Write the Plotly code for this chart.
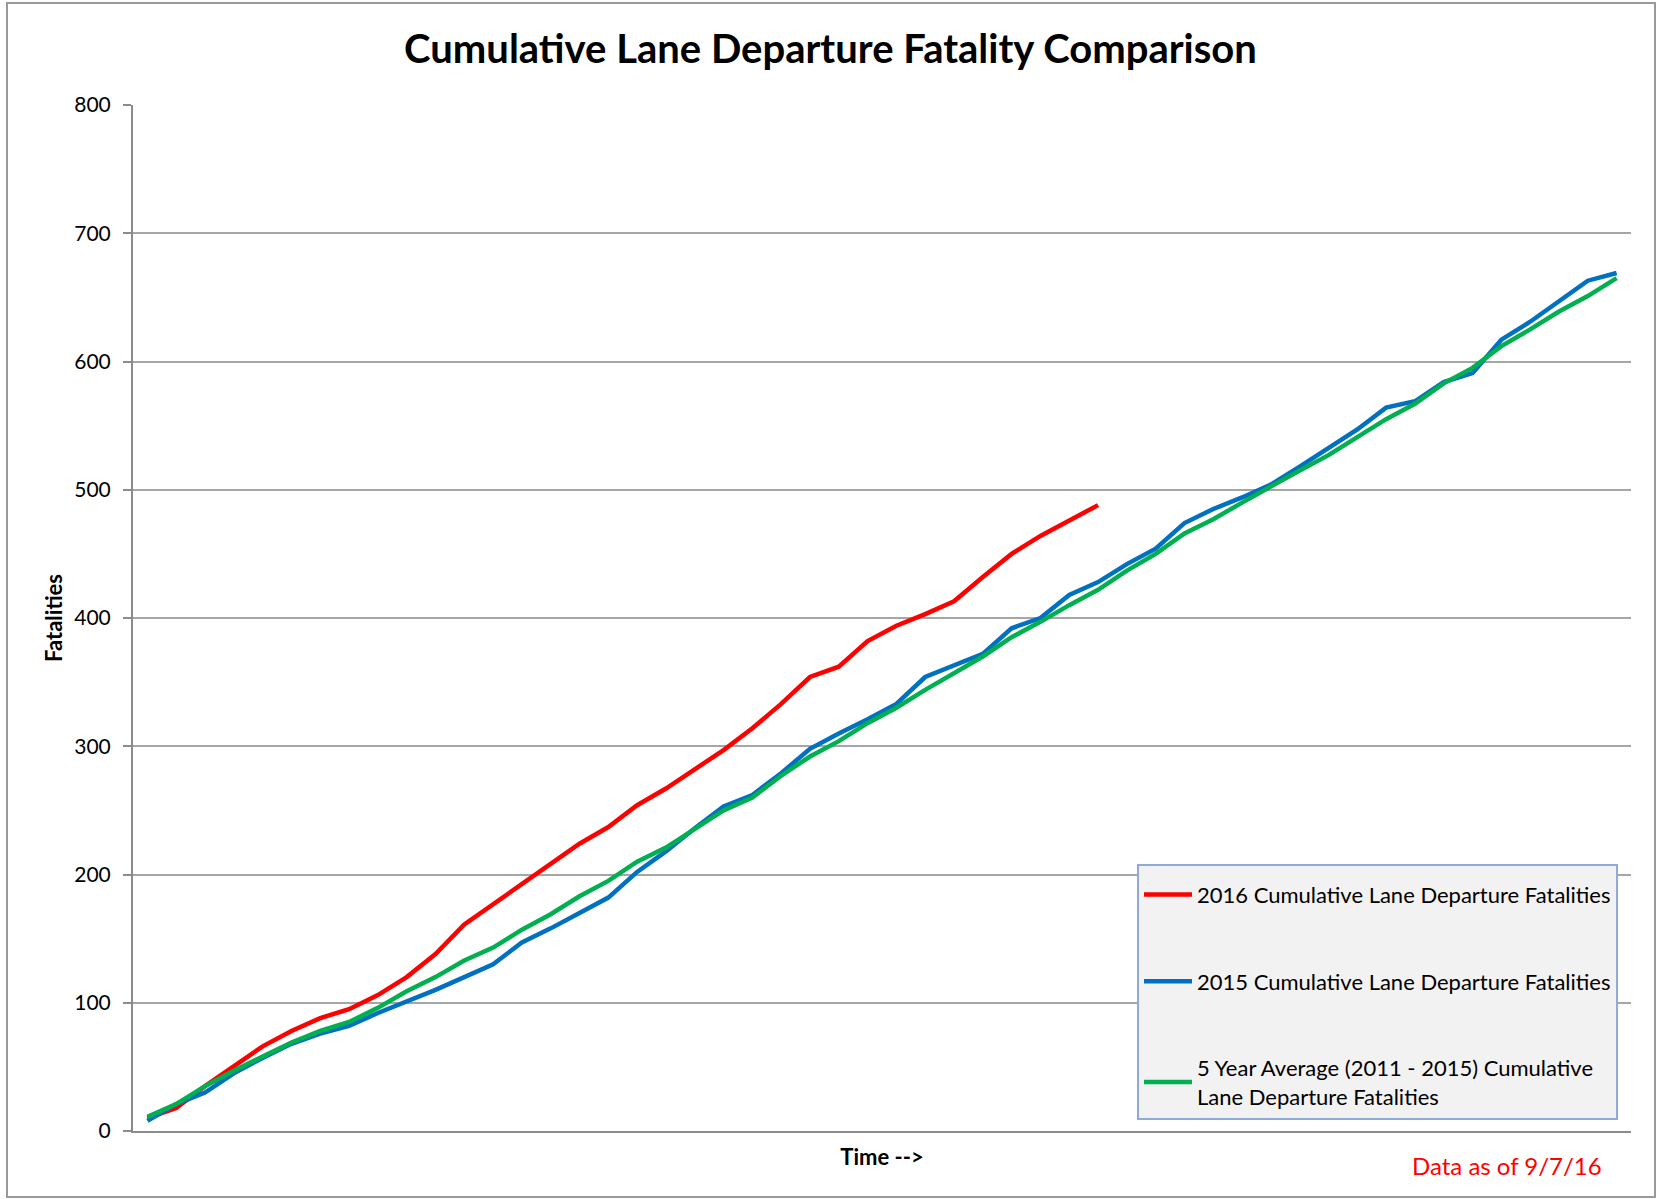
import plotly.graph_objects as go

weeks_2016 = list(range(34))
weeks_all = list(range(52))

fatal_2016 = [10, 18, 35, 50, 66, 78, 88, 95, 106, 120, 138, 161, 177, 192, 209, 224, 237,
              254, 267, 282, 297, 314, 333, 354, 362, 382, 394, 403, 413, 432, 450, 464, 476, 488]

fatal_2015 = [8, 21, 30, 45, 57, 68, 76, 82, 92, 101, 110, 120, 130, 147, 158, 170, 182,
              202, 218, 236, 253, 262, 279, 298, 310, 321, 333, 354, 363, 372, 392, 400,
              418, 428, 442, 454, 474, 485, 494, 504, 518, 532, 547, 564, 569, 584, 591,
              617, 631, 647, 663, 669]

fatal_5yr = [11, 21, 35, 47, 58, 69, 78, 85, 96, 109, 120, 133, 143, 157, 169, 183, 195,
             210, 221, 235, 250, 260, 277, 292, 304, 318, 330, 344, 357, 370, 385, 397,
             410, 422, 437, 450, 466, 477, 490, 503, 515, 527, 541, 555, 567, 583, 595,
             612, 625, 639, 651, 665]

y_ticks = [0, 100, 200, 300, 400, 500, 600, 700, 800]

names = ["2016 Cumulative Lane Departure Fatalities",
         "2015 Cumulative Lane Departure Fatalities",
         "5 Year Average (2011 - 2015) Cumulative<br>Lane Departure Fatalities"]

FONT = "Lato"

fig = go.Figure()
fig.add_trace(go.Scatter(x=weeks_2016, y=fatal_2016, mode="lines", name=names[0],
                         legendgroup="a", line=dict(color="#FF0000", width=4.5)))
fig.add_trace(go.Scatter(x=weeks_all, y=fatal_2015, mode="lines", name=names[1],
                         legendgroup="b", line=dict(color="#0070C0", width=4.5)))
fig.add_trace(go.Scatter(x=weeks_all, y=fatal_5yr, mode="lines", name=names[2],
                         legendgroup="c", line=dict(color="#00B050", width=4.5)))

L, R, T, B = 133, 30, 105, 68
W, H = 1661, 1199
pw = W - L - R
ph = H - T - B

def px(x):
    return (x - L) / pw

def py(y):
    return (H - B - y) / ph

fig.update_layout(
    width=W, height=H,
    margin=dict(l=L, r=R, t=T, b=B),
    paper_bgcolor="white", plot_bgcolor="white",
    font=dict(family=FONT, color="#000000"),
    title=dict(text="<b>Cumulative Lane Departure Fatality Comparison</b>",
               x=0.5, xanchor="center", y=1 - 49 / H, yanchor="middle",
               font=dict(size=40, family=FONT, color="#000000")),
    showlegend=True,
    legend=dict(x=px(1137), y=py(864), xanchor="left", yanchor="top",
                bgcolor="#F2F2F2", bordercolor="#8FAAD9", borderwidth=2,
                font=dict(size=22, family=FONT, color="#000000"),
                title=dict(text=" ", font=dict(size=6)),
                tracegroupgap=55, itemwidth=48, traceorder="grouped"),
    xaxis=dict(range=[-0.5, 51.5], showticklabels=False, showgrid=False,
               showline=True, linecolor="#8C8C8C", linewidth=2, ticks="",
               zeroline=False,
               title=dict(text="<b>Time --></b>", font=dict(size=22, family=FONT),
                          standoff=18)),
    yaxis=dict(range=[0, 800], tickvals=y_ticks, ticktext=[str(v) for v in y_ticks],
               showgrid=True, gridcolor="#A6A6A6", gridwidth=2,
               showline=True, linecolor="#8C8C8C", linewidth=2,
               ticks="outside", ticklen=8, tickcolor="#8C8C8C", tickwidth=2,
               tickfont=dict(size=21, family=FONT, color="#000000"),
               ticklabelstandoff=8,
               zeroline=False,
               title=dict(text="<b>Fatalities</b>", font=dict(size=22, family=FONT),
                          standoff=6)),
    annotations=[
        dict(text="Data as of 9/7/16", xref="paper", yref="paper",
             x=px(1507), y=py(1165), xanchor="center", yanchor="middle",
             showarrow=False, font=dict(size=24, family=FONT, color="#FF0000")),
    ],
    shapes=[
        dict(type="rect", xref="paper", yref="paper",
             x0=px(7), x1=px(1655), y0=py(1197), y1=py(3),
             line=dict(color="#9A9A9A", width=2), fillcolor="rgba(0,0,0,0)",
             layer="below"),
    ],
)

fig.write_html("out.html", config={"displayModeBar": False},
               post_script="document.body.style.margin='0';")
